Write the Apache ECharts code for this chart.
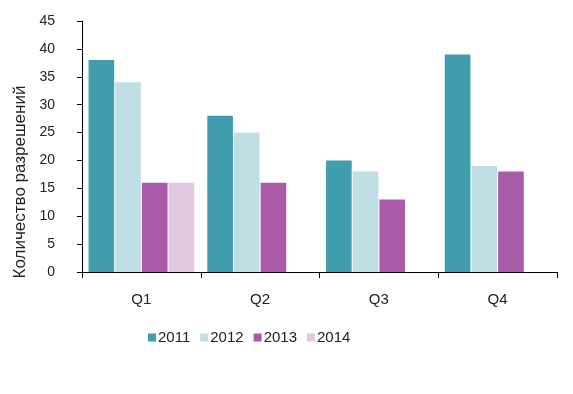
<!DOCTYPE html>
<html>
<head>
<meta charset="utf-8">
<script src="https://cdn.jsdelivr.net/npm/echarts@6/dist/echarts.min.js"></script>
<style>html,body{margin:0;padding:0;background:#fff}#c{width:573px;height:394px}</style>
</head>
<body>
<div id="c"></div>
<script>
var categories = ['Q1', 'Q2', 'Q3', 'Q4'];
var seriesNames = ['2011', '2012', '2013', '2014'];
var v2011 = [38, 28, 20, 39];
var v2012 = [34, 25, 18, 19];
var v2013 = [16, 16, 13, 18];
var v2014 = [16, null, null, null];
var yTicks = [0, 5, 10, 15, 20, 25, 30, 35, 40, 45];
var yTitle = 'Количество разрешений';
var colors = ['#409DAE', '#BFDFE4', '#A95BAA', '#E3C8E2'];

var font = 'Arial, "Liberation Sans", sans-serif';
var textColor = '#222';
var chart = echarts.init(document.getElementById('c'), null, {renderer: 'canvas'});
var values = [v2011, v2012, v2013, v2014];
chart.setOption({
  animation: false,
  color: colors,
  textStyle: {fontFamily: font},
  grid: {left: 82, right: 16, top: 21, bottom: 122},
  legend: {
    left: 143, top: 325,
    icon: 'rect', itemWidth: 8, itemHeight: 8, itemGap: 10,
    textStyle: {fontSize: 15, color: textColor, fontFamily: font, padding: [0, 0, 0, -3]},
    data: seriesNames
  },
  graphic: [{
    type: 'text',
    x: 20, y: 182,
    rotation: Math.PI / 2,
    style: {text: yTitle, fontSize: 17, fill: textColor, fontFamily: font, align: 'center', verticalAlign: 'middle'}
  }],
  xAxis: {
    type: 'category',
    data: categories,
    axisLine: {lineStyle: {color: '#000', width: 1}},
    axisTick: {show: true, length: 6, lineStyle: {color: '#000'}},
    axisLabel: {fontSize: 15, color: textColor, margin: 20, fontFamily: font}
  },
  yAxis: {
    type: 'value',
    min: yTicks[0], max: yTicks[yTicks.length - 1], interval: 5,
    axisLine: {show: true, lineStyle: {color: '#000', width: 1}},
    axisTick: {show: true, length: 5, lineStyle: {color: '#000'}},
    splitLine: {show: false},
    axisLabel: {fontSize: 14, color: textColor, margin: 27, fontFamily: font}
  },
  series: seriesNames.map(function (n, i) {
    return {
      name: n, type: 'bar', data: values[i],
      barGap: '4%', barCategoryGap: '11%'
    };
  })
});
</script>
</body>
</html>
